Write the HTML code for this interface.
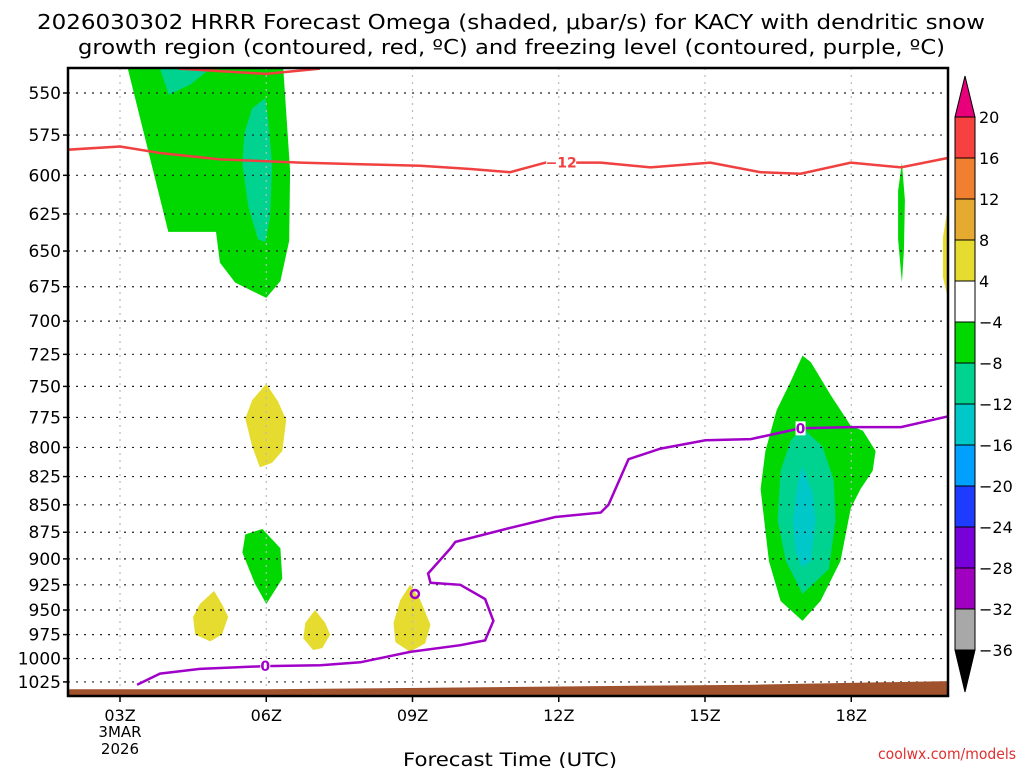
<!DOCTYPE html>
<html><head><meta charset="utf-8"><style>
body{margin:0;background:#fff;width:1024px;height:768px;overflow:hidden}
svg{font-family:"DejaVu Sans","Liberation Sans",sans-serif}
</style></head><body>
<svg id="chart" width="1024" height="768">
<text x="37" y="29" font-size="20" textLength="948" lengthAdjust="spacingAndGlyphs">2026030302 HRRR Forecast Omega (shaded, μbar/s) for KACY with dendritic snow</text>
<text x="78" y="54" font-size="20" textLength="867" lengthAdjust="spacingAndGlyphs">growth region (contoured, red, ºC) and freezing level (contoured, purple, ºC)</text>
<g id="plot"></g>
<text x="403" y="766" font-size="19" textLength="214" lengthAdjust="spacingAndGlyphs">Forecast Time (UTC)</text>
<text x="878" y="759" font-size="15" fill="#e03030" textLength="138" lengthAdjust="spacingAndGlyphs">coolwx.com/models</text>
</svg>
<script>
const pTicks=[550,575,600,625,650,675,700,725,750,775,800,825,850,875,900,925,950,975,1000,1025];
const hTicks=[3,6,9,12,15,18];
const hLabels=["03Z","06Z","09Z","12Z","15Z","18Z"];
const cbLevels=[20,16,12,8,4,-4,-8,-12,-16,-20,-24,-28,-32,-36];
const cbColors=["#f74040","#f08030","#e6aa30","#e6dc30","#ffffff","#00d800","#00d38f","#00c8c8","#00a0ff","#1e3cff","#7800d8","#a000c0","#a8a8a8"];
const surfH=[1.9,6,8,12,16,20.1];
const surfP=[1033,1033,1032,1030,1028,1024];
const shadeFills=[["#00d800",[[3.16,536],[6.35,536],[6.49,597],[6.47,643],[6.29,671],[6.0,683],[5.36,672],[5.05,658],[4.97,637],[3.99,637]]],
["#00d38f",[[3.82,536],[4.85,536],[4.45,545],[4.0,551]]],
["#00d38f",[[5.98,553],[6.04,566],[6.12,593],[6.08,627],[5.98,644],[5.83,642],[5.63,620],[5.51,593],[5.55,574],[5.71,559]]],
["#e6dc30",[[6.0,748],[6.24,762],[6.41,777],[6.33,803],[6.12,813],[5.87,817],[5.71,799],[5.57,776],[5.71,761]]],
["#00d800",[[5.92,872],[6.29,890],[6.33,919],[6.0,944],[5.77,924],[5.51,894],[5.57,877]]],
["#e6dc30",[[4.93,931],[5.09,944],[5.22,957],[5.09,975],[4.85,982],[4.54,975],[4.50,957],[4.64,944]]],
["#e6dc30",[[7.0,950],[7.21,963],[7.31,975],[7.15,989],[6.96,991],[6.76,979],[6.80,963]]],
["#e6dc30",[[8.95,925],[9.16,940],[9.37,965],[9.26,984],[8.95,993],[8.65,983],[8.61,963],[8.75,940]]],
["#e6dc30",[[20.05,607],[19.88,641],[19.88,668],[20.05,694]]],
["#00d800",[[19.04,592],[19.1,616],[19.08,650],[19.04,672],[18.96,642],[18.96,610]]],
["#00d800",[[17.0,726],[17.17,731],[17.58,757],[17.99,782],[18.24,786],[18.5,803],[18.44,820],[18.19,836],[17.99,853],[17.78,902],[17.37,941],[17.0,961],[16.55,941],[16.31,902],[16.14,836],[16.24,803],[16.47,769],[16.76,746]]],
["#00d38f",[[17.0,784],[17.41,799],[17.64,828],[17.68,864],[17.54,910],[17.0,934],[16.66,902],[16.49,864],[16.55,820],[16.76,794]]],
["#00c8c8",[[17.0,816],[17.21,840],[17.27,864],[17.17,902],[17.0,908],[16.86,894],[16.80,864],[16.9,831]]]];
const redH=[1.93,3,3.82,5.05,6.7,7.93,9.16,10.19,11.0,11.73,12.86,13.88,15.11,16.14,16.96,17.99,19.02,20.0];
const redP=[584,582,586,590,592,593,594,596,598,592,592,595,592,598,599,592,595,589];
const red2H=[4.2,6.0,7.1];
const red2P=[536,539,536];
const purH=[3.35,3.82,4.64,5.98,7.11,7.93,8.95,9.98,10.49,10.66,10.49,9.98,9.37,9.32,9.78,9.88,11.0,11.93,12.86,13.02,13.43,14.09,15.01,15.94,16.96,17.99,19.02,20.0];
const purP=[1028,1016,1011,1008,1007,1004,993,986,981,961,939,925,923,914,890,884,871,861,857,850,810,801,794,793,784,783,783,774];
const X0=68,X1=948,Y0=68,Y1=696;
const xs=h=>120+(h-3)*48.75;
const ys=p=>93+Math.log(p/550)*946;
const NS="http://www.w3.org/2000/svg";
const plot=document.getElementById('plot');
function mk(t,a,parent){const e=document.createElementNS(NS,t);for(const k in a)e.setAttribute(k,a[k]);(parent||plot).appendChild(e);return e;}
const pts=arr=>arr.map(d=>xs(d[0]).toFixed(1)+","+ys(d[1]).toFixed(1)).join(" ");
const defs=mk('defs',{});const cp=mk('clipPath',{id:'cp'},defs);mk('rect',{x:X0,y:Y0,width:X1-X0,height:Y1-Y0},cp);
const g=mk('g',{'clip-path':'url(#cp)'});
shadeFills.forEach((s,i)=>{const e=mk('polygon',{points:pts(s[1]),fill:s[0]},g);

});
pTicks.forEach(p=>{const l=mk('line',{x1:X0,x2:X1,y1:ys(p),y2:ys(p),stroke:'#222','stroke-dasharray':'2 6','stroke-width':1.2},g);

});
hTicks.forEach(h=>{const l=mk('line',{x1:xs(h),x2:xs(h),y1:Y0,y2:Y1,stroke:'#bbb','stroke-dasharray':'2 5','stroke-width':1.2},g);

});
let sp=surfH.map((h,i)=>[h,surfP[i]]);
const terr=mk('polygon',{points:pts(sp)+` ${X1+5},${Y1+5} ${X0-5},${Y1+5}`,fill:'#a0522d'},g);


const red=mk('polyline',{points:pts(redH.map((h,i)=>[h,redP[i]])),fill:'none',stroke:'#f04040','stroke-width':2.5},g);


const red2=mk('polyline',{points:pts(red2H.map((h,i)=>[h,red2P[i]])),fill:'none',stroke:'#f04040','stroke-width':2.5},g);


const pur=mk('polyline',{points:pts(purH.map((h,i)=>[h,purP[i]])),fill:'none',stroke:'#a000c8','stroke-width':2.5},g);


const loop=mk('ellipse',{cx:xs(9.05),cy:ys(934),rx:4,ry:4,fill:'none',stroke:'#a000c8','stroke-width':2.5},g);


function clabel(h,p,t,c){const r=mk('rect',{x:xs(h)-(t.length*5),y:ys(p)-7,width:t.length*10,height:14,fill:'#fff'},g);


const e=mk('text',{x:xs(h),y:ys(p)+5,'text-anchor':'middle','font-size':14,'font-weight':'bold',fill:c},g);e.textContent=t;

}
clabel(12.05,592,"−12","#f04040");clabel(5.98,1008,"0","#a000c8");clabel(16.96,784,"0","#a000c8");
const fr=mk('rect',{x:X0,y:Y0,width:X1-X0,height:Y1-Y0,fill:'none',stroke:'#000','stroke-width':2.5});


pTicks.forEach(p=>{const t=mk('text',{x:61,y:ys(p)+6,'text-anchor':'end','font-size':17});t.textContent=p;


mk('line',{x1:X0-5,x2:X0,y1:ys(p),y2:ys(p),stroke:'#000','stroke-width':1.5});});
hTicks.forEach((h,i)=>{const t=mk('text',{x:xs(h),y:721,'text-anchor':'middle','font-size':16});t.textContent=hLabels[i];


mk('line',{x1:xs(h),x2:xs(h),y1:Y1,y2:Y1+6,stroke:'#000','stroke-width':1.5});});
[["3MAR",737],["2026",754]].forEach(d=>{const t=mk('text',{x:xs(3),y:d[1],'text-anchor':'middle','font-size':15});t.textContent=d[0];

});
const cbX=955,cbW=20,cb0=117,cbStep=(650-117)/13;
const cy=v=>cb0+cbLevels.indexOf(v)*cbStep;
cbColors.forEach((c,i)=>{const r=mk('rect',{x:cbX,y:cb0+i*cbStep,width:cbW,height:cbStep,fill:c,stroke:'#000','stroke-width':1});

});
const tu=mk('polygon',{points:`${cbX},${cb0} ${cbX+cbW},${cb0} ${cbX+cbW/2},${76}`,fill:'#e8007a',stroke:'#000'});


const td=mk('polygon',{points:`${cbX},650 ${cbX+cbW},650 ${cbX+cbW/2},692`,fill:'#000',stroke:'#000'});


cbLevels.forEach(v=>{const t=mk('text',{x:979,y:cy(v)+6,'font-size':16});t.textContent=v<0?'−'+(-v):v;

});
</script>
</body></html>
